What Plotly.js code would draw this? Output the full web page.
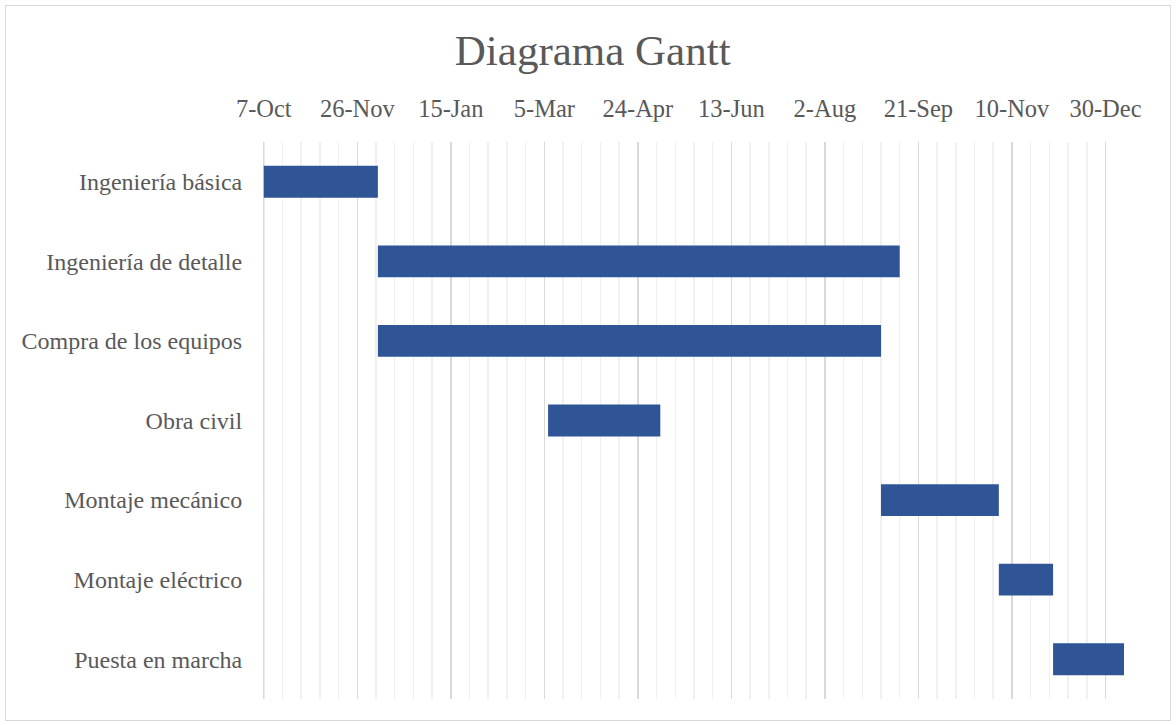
<!DOCTYPE html>
<html>
<head>
<meta charset="utf-8">
<script src="https://cdn.plot.ly/plotly-3.0.1.min.js"></script>
<style>
  html, body { margin: 0; padding: 0; background: #ffffff; }
  #wrap { position: relative; width: 1176px; height: 725px; }
  #chart { position: absolute; left: 0; top: 0; width: 1176px; height: 725px; }
  #frame { position: absolute; left: 5px; top: 5px; width: 1164px; height: 714px;
           border: 1.5px solid #D9D9D9; pointer-events: none; }
</style>
</head>
<body>
<div id="wrap">
  <div id="chart"></div>
  <div id="frame"></div>
</div>
<script>
// ---- data ----
const tasks = [
  'Ingeniería básica',
  'Ingeniería de detalle',
  'Compra de los equipos',
  'Obra civil',
  'Montaje mecánico',
  'Montaje eléctrico',
  'Puesta en marcha'
];
const startDates = [
  '2019-10-07',
  '2019-12-07',
  '2019-12-07',
  '2020-03-07',
  '2020-09-01',
  '2020-11-03',
  '2020-12-02'
];
const endDates = [
  '2019-12-07',
  '2020-09-11',
  '2020-09-01',
  '2020-05-06',
  '2020-11-03',
  '2020-12-02',
  '2021-01-09'
];
const tickStart = '2019-10-07';
const axisStart = '2019-10-06 14:00';
const axisEnd = '2021-01-08 22:00';
const chartTitle = 'Diagrama Gantt';

// ---- derived ----
const DAY = 86400000;
const durations = startDates.map((s, i) => Date.parse(endDates[i]) - Date.parse(s));

const textColor = '#595959';
const fontFam = 'Liberation Serif';

const trace = {
  type: 'bar',
  orientation: 'h',
  y: tasks,
  x: durations,
  base: startDates,
  width: 0.4,
  marker: { color: '#2F5597', line: { width: 0 } },
  hoverinfo: 'skip',
  showlegend: false
};

const layout = {
  width: 1176,
  height: 725,
  margin: { l: 263, r: 52, t: 142, b: 26, pad: 0 },
  paper_bgcolor: 'rgba(0,0,0,0)',
  plot_bgcolor: '#ffffff',
  font: { family: fontFam, color: textColor, size: 24 },
  title: {
    text: chartTitle,
    font: { family: fontFam, size: 43, color: textColor },
    xref: 'container', x: 0.504, xanchor: 'center',
    yref: 'container', y: 0.931, yanchor: 'middle'
  },
  xaxis: {
    type: 'date',
    side: 'top',
    range: [axisStart, axisEnd],
    tick0: tickStart,
    dtick: 50 * DAY,
    tickformat: '%-d-%b',
    ticks: 'outside',
    ticklen: 14,
    tickcolor: 'rgba(0,0,0,0)',
    tickfont: { family: fontFam, size: 24.5, color: textColor },
    showgrid: true,
    gridcolor: '#D9D9D9',
    gridwidth: 1.5,
    minor: {
      tick0: tickStart,
      dtick: 10 * DAY,
      showgrid: true,
      gridcolor: '#F0F0F0',
      gridwidth: 1.5,
      ticks: ''
    },
    showline: false,
    zeroline: false,
    fixedrange: true
  },
  yaxis: {
    type: 'category',
    categoryorder: 'array',
    categoryarray: tasks,
    autorange: 'reversed',
    ticks: 'outside',
    ticklen: 15,
    tickcolor: 'rgba(0,0,0,0)',
    tickfont: { family: fontFam, size: 24, color: textColor },
    showgrid: false,
    showline: false,
    zeroline: false,
    fixedrange: true
  },
  shapes: [{
    type: 'line', layer: 'below',
    xref: 'x', yref: 'paper',
    x0: tickStart, x1: tickStart, y0: 0, y1: 1,
    line: { color: '#D9D9D9', width: 1.5 }
  }],
  bargap: 0.6
};

Plotly.newPlot('chart', [trace], layout, { displayModeBar: false, staticPlot: true });
</script>
</body>
</html>
